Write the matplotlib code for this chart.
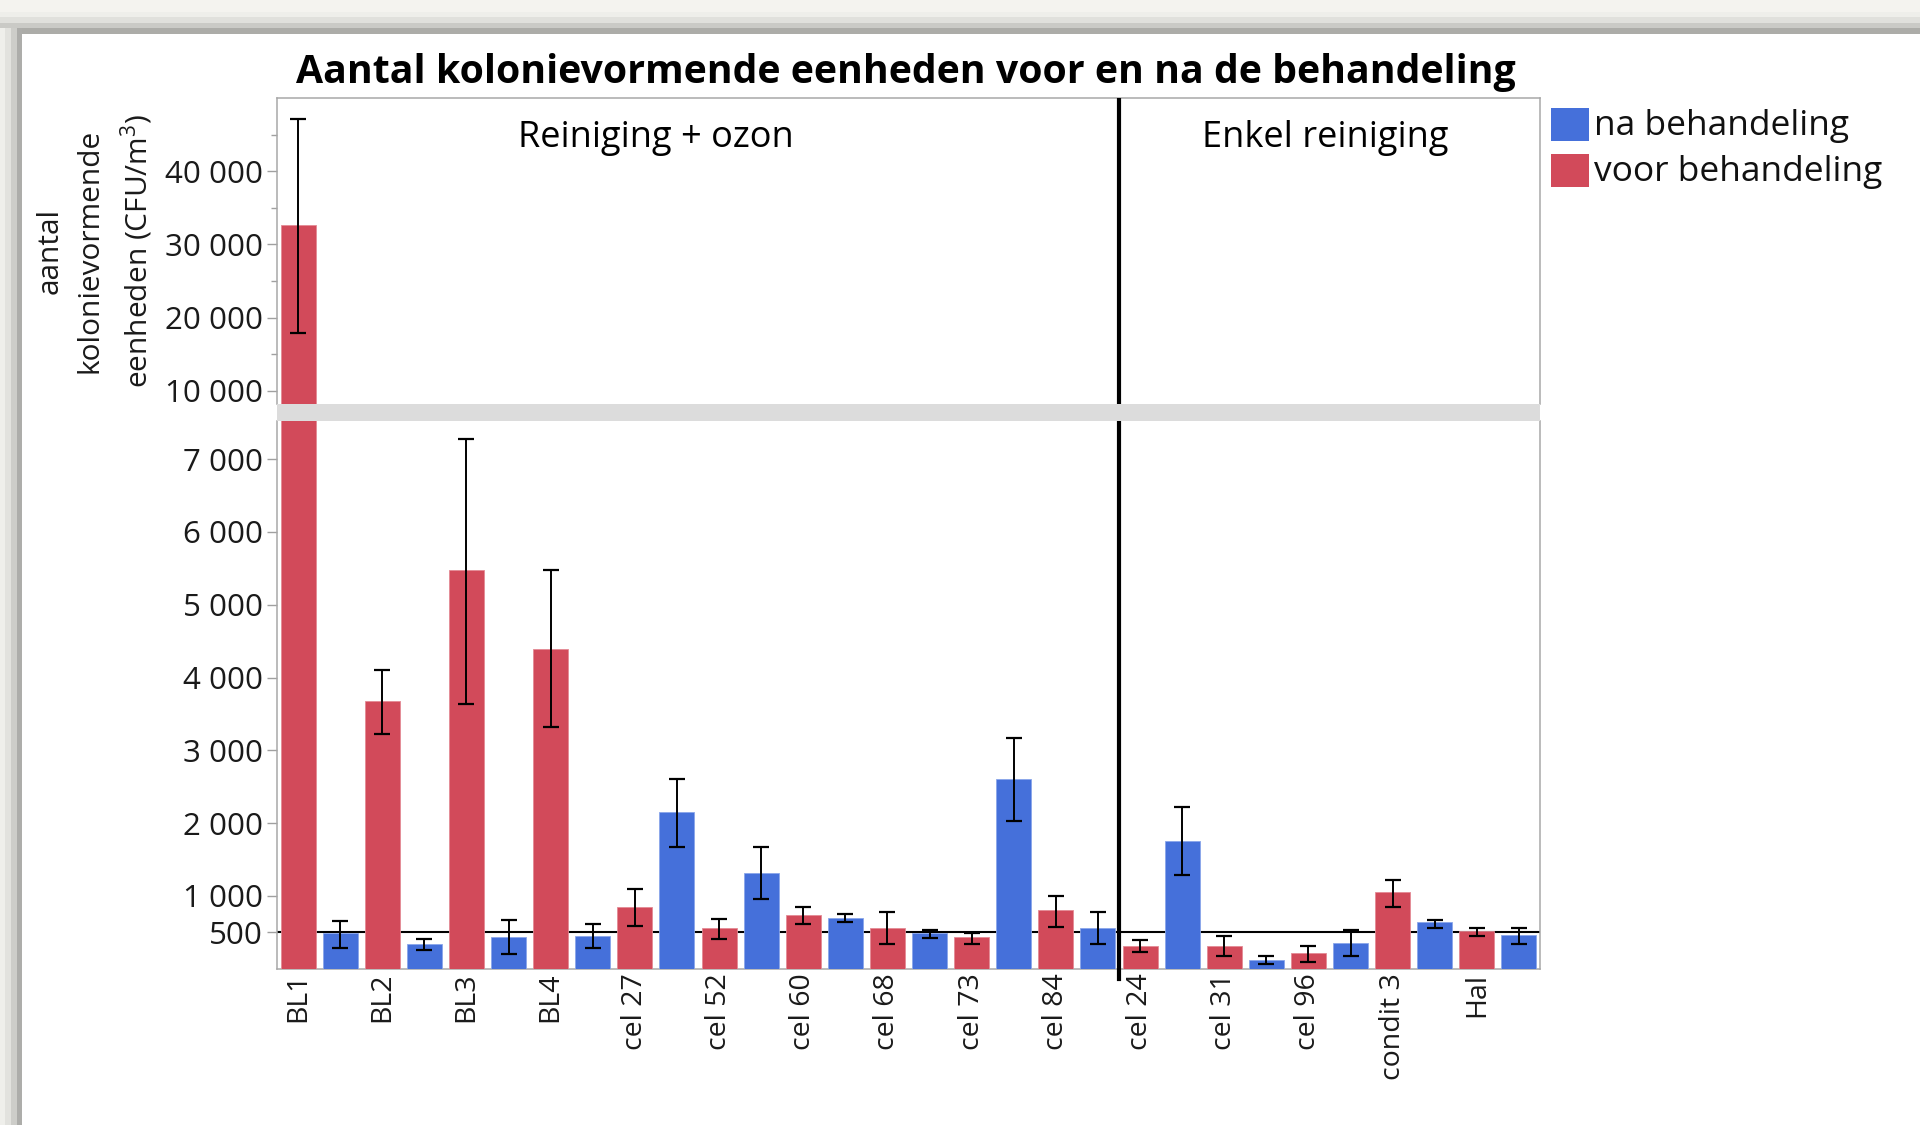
import matplotlib
matplotlib.use("Agg")
import matplotlib.pyplot as plt
from matplotlib.patches import Rectangle
import numpy as np

# ---------------- data ----------------
locations = ["BL1", "BL2", "BL3", "BL4", "cel 27", "cel 52", "cel 60", "cel 68",
             "cel 73", "cel 84", "cel 24", "cel 31", "cel 96", "condit 3", "Hal"]
voor = [32600, 3674, 5473, 4395, 842, 558, 737, 564, 431, 811, 316, 316, 211, 1050, 518]
voor_lo = [17960, 3226, 3637, 3316, 584, 410, 610, 335, 335, 577, 229, 170, 92, 852, 445]
voor_hi = [47150, 4100, 7273, 5473, 1095, 689, 847, 779, 486, 995, 394, 445, 308, 1215, 555]
na = [486, 342, 437, 447, 2158, 1316, 693, 486, 2607, 564, 1759, 120, 349, 637, 459]
na_lo = [280, 253, 200, 279, 1674, 963, 637, 418, 2030, 335, 1292, 69, 170, 555, 335]
na_hi = [660, 410, 663, 610, 2605, 1674, 753, 527, 3175, 775, 2218, 170, 527, 665, 555]
groups = ["Reiniging + ozon", "Enkel reiniging"]
n_group1 = 10
top_ticks = [10000, 20000, 30000, 40000]
top_minor = [15000, 25000, 35000, 45000]
bot_ticks = [500, 1000, 2000, 3000, 4000, 5000, 6000, 7000]
ref_level = 500
title = "Aantal kolonievormende eenheden voor en na de behandeling"
ylabel = "aantal\nkolonievormende\neenheden (CFU/m$^3$)"
legend_labels = ["na behandeling", "voor behandeling"]

RED = "#d24a5a"
BLUE = "#4570da"
SANS = ["Open Sans", "DejaVu Sans"]
plt.rcParams["font.family"] = SANS
plt.rcParams["mathtext.fontset"] = "custom"
plt.rcParams["mathtext.rm"] = "Open Sans"

W, H = 1920, 1125
fig = plt.figure(figsize=(W / 100, H / 100), dpi=100)
fig.patch.set_facecolor("white")


def fx(px):
    return px / W


def fy(py):
    return 1 - py / H


# window frame decoration
for (y0, y1, c) in [(0, 12, "#f4f3ef"), (12, 17, "#eeeeea"), (17, 23, "#e0e0dc"),
                    (23, 28, "#cacac6"), (28, 34, "#acaca8")]:
    fig.add_artist(Rectangle((0, fy(y1)), 1, (y1 - y0) / H, transform=fig.transFigure,
                             facecolor=c, edgecolor="none", zorder=0))
for (x0, x1, c) in [(0, 5, "#efefeb"), (5, 11, "#e2e2de"), (11, 17, "#cdcdc9"), (17, 22, "#adadaa")]:
    fig.add_artist(Rectangle((fx(x0), 0), (x1 - x0) / W, fy(28), transform=fig.transFigure,
                             facecolor=c, edgecolor="none", zorder=0))

L, R = 277, 1540
T1, B1 = 98, 404
T2, B2 = 421, 968.7
ax_top = fig.add_axes([fx(L), fy(B1), (R - L) / W, (B1 - T1) / H])
ax_bot = fig.add_axes([fx(L), fy(B2), (R - L) / W, (B2 - T2) / H])

# gray break band
fig.add_artist(Rectangle((fx(L), fy(T2)), (R - L) / W, (T2 - B1) / H, transform=fig.transFigure,
                         facecolor="#dcdcdc", edgecolor="none", zorder=1))

n = len(locations)
x_voor = np.arange(n) * 2
x_na = x_voor + 1
bw = 0.83
voor_err = [np.array(voor) - np.array(voor_lo), np.array(voor_hi) - np.array(voor)]
na_err = [np.array(na) - np.array(na_lo), np.array(na_hi) - np.array(na)]

for ax in (ax_top, ax_bot):
    ax.bar(x_voor, voor, width=bw, color=RED, edgecolor="#e48a95", linewidth=0.6, zorder=3)
    ax.bar(x_na, na, width=bw, color=BLUE, edgecolor="#8aa6ea", linewidth=0.6, zorder=3)
    ax.errorbar(x_voor, voor, yerr=voor_err, fmt="none", ecolor="black", elinewidth=1.4,
                capsize=5.5, capthick=1.6, zorder=4)
    ax.errorbar(x_na, na, yerr=na_err, fmt="none", ecolor="black", elinewidth=1.4,
                capsize=5.5, capthick=1.6, zorder=4)
    ax.set_xlim(-0.5, 2 * n - 0.5)
    for s in ax.spines.values():
        s.set_color("#a8a8a8")
        s.set_linewidth(1.1)
    ax.tick_params(axis="y", length=7, width=1.0, color="#a0a0a0", labelsize=22.5,
                   labelcolor="#1a1a1a", pad=3)
    ax.tick_params(axis="y", which="minor", length=4, width=1.0, color="#a0a0a0")
    ax.set_facecolor("white")

sep = 2 * n_group1 - 0.5
fmt = lambda v: f"{v:,}".replace(",", " ")

ax_top.set_ylim(8200, 50000)
ax_top.spines["bottom"].set_visible(False)
ax_top.set_xticks([])
ax_top.set_yticks(top_ticks)
ax_top.set_yticks(top_minor, minor=True)
ax_top.set_yticklabels([fmt(v) for v in top_ticks])
ax_top.axvline(sep, color="black", lw=3.0, zorder=5)
ax_top.text(sep / 2 - 1.25, 0.87, groups[0], transform=ax_top.get_xaxis_transform(),
            ha="center", va="center", fontsize=26, color="black")
ax_top.text((sep + 2 * n - 0.5) / 2 - 0.1, 0.87, groups[1], transform=ax_top.get_xaxis_transform(),
            ha="center", va="center", fontsize=26, color="black")

ax_bot.set_ylim(0, 7525)
ax_bot.spines["top"].set_visible(False)
ax_bot.set_yticks(bot_ticks)
ax_bot.set_yticklabels([fmt(v) for v in bot_ticks])
ax_bot.yaxis.get_major_ticks()[0].tick1line.set_color("black")
ax_bot.axhline(ref_level, color="black", lw=1.5, zorder=2)
ax_bot.axvline(sep, ymin=-0.019, ymax=1, color="black", lw=3.0, zorder=5, clip_on=False)
ax_bot.set_xticks(x_voor)
ax_bot.set_xticklabels(locations, rotation=90, fontsize=20.5, color="#1a1a1a")
ax_bot.tick_params(axis="x", length=0, pad=3)

# title and y label
fig.text(fx(906), fy(72), title, ha="center", va="center", fontsize=28.3, fontweight="bold")
fig.text(fx(96), fy(251), ylabel, ha="center", va="center", rotation=90, fontsize=21.5,
         linespacing=1.5, color="#1a1a1a")

# legend
for i, (lab, col) in enumerate(zip(legend_labels, [BLUE, RED])):
    y0 = 108 + i * 46
    fig.add_artist(Rectangle((fx(1551), fy(y0 + 33)), 38 / W, 33 / H, transform=fig.transFigure,
                             facecolor=col, edgecolor="none"))
    fig.text(fx(1594), fy(y0 + 18), lab, ha="left", va="center", fontsize=25.5, color="#111111")

fig.savefig("out.png", dpi=100)
